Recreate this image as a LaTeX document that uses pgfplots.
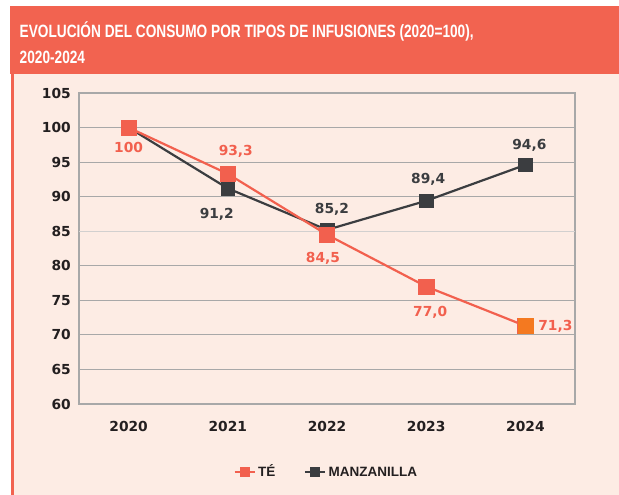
\documentclass[border=0pt]{standalone}
\usepackage{fontspec}
\setmainfont{Liberation Sans}
\newfontfamily\tickfont{DejaVu Sans}
\usepackage{graphicx}
\usepackage{pgfplots}
\pgfplotsset{compat=1.18}
\usepackage{pgfplotstable}

\definecolor{tea}{HTML}{F2604E}
\definecolor{titlebar}{HTML}{F26350}
\definecolor{manz}{HTML}{3B3D40}
\definecolor{orng}{HTML}{F47920}
\definecolor{peach}{HTML}{FDECE4}
\definecolor{txt}{HTML}{231F20}
\definecolor{gridgray}{HTML}{A8A8A8}
\definecolor{gridlight}{HTML}{D2D0CF}

\pgfplotstableread{
x y lbl dx dy
0 100 100 0 -24.9
1 93.3 93,3 8 18.1
2 84.5 84,5 -4 -27.9
3 77.0 77,0 4 -30.4
4 71.3 71,3 30 -4.9
}\teadata

\pgfplotstableread{
x y lbl dx dy
0 100 {} 0 0
1 91.2 91,2 -11 -29.9
2 85.2 85,2 5 16.1
3 89.4 89,4 2 17.1
4 94.6 94,6 4 15.1
}\manzdata

\begin{document}
\begin{tikzpicture}
\path[use as bounding box] (0,0) rectangle (619bp,495bp);
\fill[white] (0,0) rectangle (619bp,495bp);
\fill[peach] (11bp,0) rectangle (619bp,421bp);
\draw[titlebar, line width=2.5bp] (12.3bp,0) -- (12.3bp,421bp);
\fill[titlebar] (10bp,421bp) rectangle (619bp,489bp);
\node[anchor=base west, inner sep=0pt, text=white] at (19.5bp,457.3bp)
  {\resizebox{454bp}{\height}{\fontsize{17.8bp}{25.4bp}\selectfont\bfseries\begin{tabular}[t]{@{}l@{}}EVOLUCIÓN DEL CONSUMO POR TIPOS DE INFUSIONES (2020=100),\\2020-2024\end{tabular}}};

\begin{axis}[
  at={(79bp,91bp)}, anchor=south west,
  scale only axis, width=496bp, height=311bp,
  xmin=-0.5, xmax=4.5, ymin=60, ymax=105,
  xtick={0,1,2,3,4},
  xticklabels={2020,2021,2022,2023,2024},
  ytick={60,65,70,75,80,90,95,100,105},
  extra y ticks={85},
  extra y tick style={grid style={draw=gridlight, line width=1.1bp}},
  ymajorgrids,
  grid style={draw=gridgray, line width=1.1bp},
  axis line style={draw=gridgray, line width=1.1bp},
  major tick length=0pt,
  tick style={draw=none},
  /pgf/number format/assume math mode=true,
  tick label style={font=\tickfont\bfseries\fontsize{13.8bp}{16bp}\selectfont, text=txt},
  yticklabel style={anchor=east, inner sep=0pt, xshift=-8bp},
  xticklabel style={anchor=north, inner sep=0pt, yshift=-16.8bp},
  clip=false,
  legend style={
    at={(0.499,-0.218)}, anchor=center, draw=none, fill=none,
    font=\bfseries\fontsize{13.5bp}{15bp}\selectfont, text=txt,
    legend columns=2,
    nodes={inner xsep=2.5bp, inner ysep=1bp, text height=9.7bp, text depth=0pt},
    /tikz/every even column/.append style={column sep=26bp},
  },
  legend image code/.code={%
    \draw[mark repeat=2,mark phase=2,#1] plot coordinates {(0bp,0bp) (10bp,0bp) (20bp,0bp)};},
]
\addplot[manz, line width=2.2bp, mark=square*, mark size=6.9bp,
  mark options={solid, line width=0.6bp},
  forget plot,
  nodes near coords, point meta=explicit symbolic,
  visualization depends on={\thisrow{dx} \as \dx},
  visualization depends on={\thisrow{dy} \as \dy},
  every node near coord/.append style={anchor=base, inner sep=0pt,
    xshift=\dx bp, yshift=\dy bp, text=manz,
    font=\tickfont\bfseries\fontsize{13.8bp}{16bp}\selectfont}]
  table[x=x, y=y, meta=lbl] {\manzdata};
\addplot[tea, line width=2.2bp, mark=square*, mark size=7.7bp,
  mark options={solid, line width=0.6bp},
  forget plot,
  nodes near coords, point meta=explicit symbolic,
  visualization depends on={\thisrow{dx} \as \dx},
  visualization depends on={\thisrow{dy} \as \dy},
  every node near coord/.append style={anchor=base, inner sep=0pt,
    xshift=\dx bp, yshift=\dy bp, text=tea,
    font=\tickfont\bfseries\fontsize{13.8bp}{16bp}\selectfont}]
  table[x=x, y=y, meta=lbl] {\teadata};
\addplot[only marks, orng, mark=square*, mark size=7.6bp,
  mark options={solid, line width=0.6bp}, forget plot]
  coordinates {(4,71.3)};

\addlegendimage{tea, line width=2.2bp, mark=square*, mark size=4.5bp, mark options={solid, line width=0.5bp}}
\addlegendentry{TÉ}
\addlegendimage{manz, line width=2.2bp, mark=square*, mark size=4.5bp, mark options={solid, line width=0.5bp}}
\addlegendentry{MANZANILLA}
\end{axis}
\end{tikzpicture}
\end{document}
